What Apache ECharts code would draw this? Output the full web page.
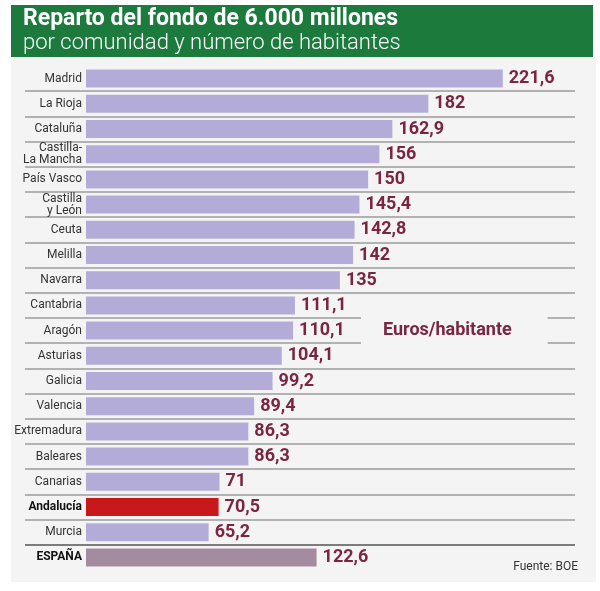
<!DOCTYPE html>
<html>
<head>
<meta charset="utf-8">
<script src="https://cdn.jsdelivr.net/npm/echarts@6/dist/echarts.min.js"></script>
<style>
  html, body { margin: 0; padding: 0; background: #fff; }
  #chart { width: 600px; height: 591px; }
</style>
</head>
<body>
<div id="chart"></div>
<script>
// datos: euros por habitante (BOE)
const regions = ['Madrid', 'La Rioja', 'Cataluña', 'Castilla-\nLa Mancha', 'País Vasco',
    'Castilla\ny León', 'Ceuta', 'Melilla', 'Navarra', 'Cantabria', 'Aragón', 'Asturias',
    'Galicia', 'Valencia', 'Extremadura', 'Baleares', 'Canarias', 'Andalucía', 'Murcia', 'ESPAÑA'];
const eurosPerHab = [221.6, 182, 162.9, 156, 150, 145.4, 142.8, 142, 135, 111.1, 110.1, 104.1,
    99.2, 89.4, 86.3, 86.3, 71, 70.5, 65.2, 122.6];
const boldRegions = ['Andalucía', 'ESPAÑA'];

const BAR = '#b4acd8';
const MAROON = '#7a2643';
const barColor = { 'Andalucía': '#c9181c', 'ESPAÑA': '#a58b9f' };

// separadores: nada arriba ni abajo, el de ESPAÑA más oscuro
const sepColors = regions.map((r, i) => (i === 0 ? 'rgba(0,0,0,0)' : r === 'ESPAÑA' ? '#555' : '#9c9c9c'));
sepColors.push('rgba(0,0,0,0)');

const chart = echarts.init(document.getElementById('chart'));
const gridTop = 66, gridBottom = 21;

chart.setOption({
    backgroundColor: '#fff',
    animation: false,
    graphic: [
        { type: 'rect', z: -10, shape: { x: 11, y: 57, width: 585, height: 525 }, style: { fill: '#f4f4f4' } },
        { type: 'rect', z: 10, shape: { x: 11, y: 5, width: 582, height: 52 }, style: { fill: '#1b7a3c' } },
        {
            type: 'text', z: 11, left: 23, top: 8,
            style: { text: 'Reparto del fondo de 6.000 millones', fill: '#fff', font: 'bold 23px Roboto' }
        },
        {
            type: 'text', z: 11, left: 23, top: 32,
            style: { text: 'por comunidad y número de habitantes', fill: '#fff', font: '300 22px Roboto' }
        },
        {
            type: 'text', z: 20, left: 361, top: 315,
            style: {
                text: 'Euros/habitante', fill: MAROON, font: 'bold 18px Roboto',
                backgroundColor: '#f4f4f4', padding: [6, 36, 6, 22]
            }
        },
        {
            type: 'text', z: 20, right: 22, top: 561,
            style: { text: 'Fuente: BOE', fill: '#333', font: '12px Roboto' }
        }
    ],
    grid: [
        { left: 86, right: 25, top: gridTop, bottom: gridBottom, outerBoundsMode: 'none' },
        { left: 25, right: 25, top: gridTop, bottom: gridBottom, outerBoundsMode: 'none' }
    ],
    xAxis: [
        { gridIndex: 0, type: 'value', min: 0, max: 260, show: false },
        { gridIndex: 1, type: 'value', min: 0, max: 1, show: false }
    ],
    yAxis: [
        {
            gridIndex: 0, type: 'category', inverse: true, data: regions,
            axisLine: { show: false }, axisTick: { show: false }, splitLine: { show: false },
            axisLabel: {
                margin: 4, color: '#333', fontFamily: 'Roboto', fontSize: 12, lineHeight: 12,
                formatter: (v) => (boldRegions.includes(v) ? '{b|' + v + '}' : v),
                rich: { b: { fontWeight: 'bold', color: '#111', fontSize: 12, fontFamily: 'Roboto' } }
            }
        },
        {
            gridIndex: 1, type: 'category', inverse: true, data: regions,
            axisLine: { show: false }, axisTick: { show: false }, axisLabel: { show: false },
            splitLine: { show: true, showMinLine: true, showMaxLine: true, lineStyle: { color: sepColors, width: 1.5 } }
        }
    ],
    series: [{
        type: 'bar',
        xAxisIndex: 0, yAxisIndex: 0,
        barWidth: 18,
        data: eurosPerHab.map((v, i) => ({
            value: v,
            itemStyle: { color: barColor[regions[i]] || BAR }
        })),
        label: {
            show: true, position: 'right', distance: 6,
            color: MAROON, fontFamily: 'Roboto', fontWeight: 'bold', fontSize: 18,
            formatter: (p) => String(p.value).replace('.', ',')
        }
    }]
});
</script>
</body>
</html>
